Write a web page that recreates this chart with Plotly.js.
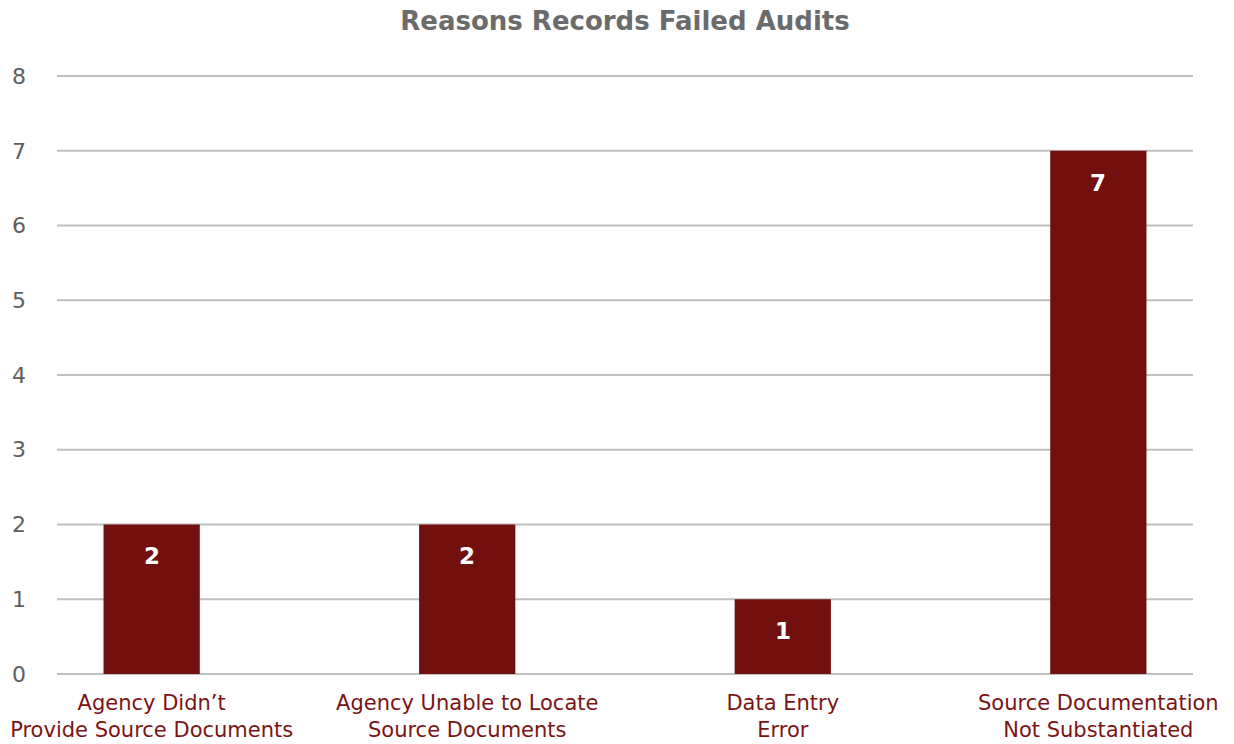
<!DOCTYPE html>
<html>
<head>
<meta charset="utf-8">
<script src="https://cdn.plot.ly/plotly-3.0.1.min.js"></script>
<style>html,body{margin:0;padding:0;background:#fff;}#chart{width:1234px;height:744px;}</style>
</head>
<body>
<div id="chart"></div>
<script>
const categories = [
  "Agency Didn\u2019t<br>Provide Source Documents",
  "Agency Unable to Locate<br>Source Documents",
  "Data Entry<br>Error",
  "Source Documentation<br>Not Substantiated"
];
const counts = [2, 2, 1, 7];
const yTicks = [0, 1, 2, 3, 4, 5, 6, 7, 8];

const barColor = "#721010";
const trace = {
  type: "bar",
  x: categories,
  y: counts,
  width: 0.305,
  marker: {color: barColor},
  hoverinfo: "skip"
};

const annotations = categories.map((c, i) => ({
  x: c, y: counts[i], xref: "x", yref: "y",
  text: "<b>" + String(counts[i]) + "</b>",
  showarrow: false, yanchor: "middle", yshift: -32,
  font: {family: "'DejaVu Sans', sans-serif", size: 23, color: "#ffffff"}
}));

const gridShapes = yTicks.map(v => ({
  type: "line", xref: "paper", yref: "y", x0: 0, x1: 1, y0: v, y1: v,
  line: {color: "#c0c0c0", width: 2}, layer: "below"
}));

const layout = {
  width: 1234, height: 744,
  margin: {l: 57, r: 41, t: 75, b: 69},
  paper_bgcolor: "#ffffff", plot_bgcolor: "#ffffff",
  showlegend: false,
  title: {
    text: "<b>Reasons Records Failed Audits</b>",
    x: 0.5065, xanchor: "center", y: 0.972, yanchor: "middle",
    font: {family: "'DejaVu Sans', sans-serif", size: 26, color: "#6b6b6b"}
  },
  xaxis: {
    type: "category",
    range: [-0.3, 3.3],
    showgrid: false, zeroline: false, showline: false,
    ticks: "", ticklabelstandoff: 13,
    tickfont: {family: "'DejaVu Sans', sans-serif", size: 21, color: "#7a1414"}
  },
  yaxis: {
    range: [-0.015, 8.015],
    tickvals: yTicks,
    showgrid: false,
    zeroline: false, showline: false,
    ticks: "", ticklabelstandoff: 30,
    tickfont: {family: "'DejaVu Sans', sans-serif", size: 22, color: "#5e5e5e"}
  },
  shapes: gridShapes,
  annotations: annotations
};

Plotly.newPlot("chart", [trace], layout, {displayModeBar: false, staticPlot: true});
</script>
</body>
</html>
